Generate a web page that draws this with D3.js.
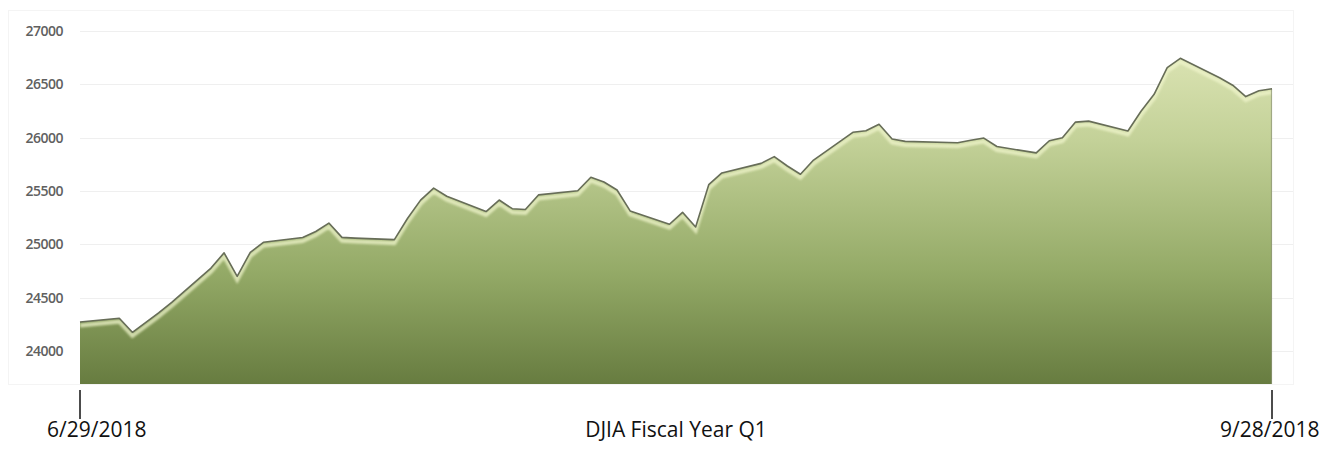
<!DOCTYPE html>
<html>
<head>
<meta charset="utf-8">
<script src="https://cdn.jsdelivr.net/npm/d3@7"></script>
<style>
  html, body { margin: 0; padding: 0; background: #fff; }
  svg { display: block; }
</style>
</head>
<body>
<svg id="chart" width="1335" height="449"></svg>
<script>
const dates = ["2018-06-29","2018-07-02","2018-07-03","2018-07-05","2018-07-06","2018-07-09","2018-07-10","2018-07-11","2018-07-12","2018-07-13",
  "2018-07-16","2018-07-17","2018-07-18","2018-07-19","2018-07-20","2018-07-23","2018-07-24","2018-07-25","2018-07-26","2018-07-27",
  "2018-07-30","2018-07-31","2018-08-01","2018-08-02","2018-08-03","2018-08-06","2018-08-07","2018-08-08","2018-08-09","2018-08-10",
  "2018-08-13","2018-08-14","2018-08-15","2018-08-16","2018-08-17","2018-08-20","2018-08-21","2018-08-22","2018-08-23","2018-08-24",
  "2018-08-27","2018-08-28","2018-08-29","2018-08-30","2018-08-31","2018-09-04","2018-09-05","2018-09-06","2018-09-07","2018-09-10",
  "2018-09-11","2018-09-12","2018-09-13","2018-09-14","2018-09-17","2018-09-18","2018-09-19","2018-09-20","2018-09-21","2018-09-24",
  "2018-09-25","2018-09-26","2018-09-27","2018-09-28"];
const closes = [24271,24307,24175,24357,24456,24777,24920,24700,24925,25019,
  25064,25120,25199,25065,25058,25044,25242,25414,25527,25451,
  25307,25415,25334,25326,25463,25502,25629,25584,25509,25313,
  25188,25300,25162,25559,25669,25759,25822,25734,25657,25790,
  26050,26064,26125,25987,25965,25952,25975,25996,25917,25857,
  25971,25999,26146,26155,26062,26247,26406,26657,26744,26562,
  26492,26385,26440,26458];
const yTicks = [24000, 24500, 25000, 25500, 26000, 26500, 27000];
const xTickLabels = ["6/29/2018", "9/28/2018"];
const title = "DJIA Fiscal Year Q1";

const parse = d3.timeParse("%Y-%m-%d");
const data = dates.map((d, i) => ({ date: parse(d), value: closes[i] }));

const svg = d3.select("#chart");
const x = d3.scaleTime().domain(d3.extent(data, d => d.date)).range([80, 1272]);
const y = d3.scaleLinear().domain([23690, 27197]).range([384, 10]);

const defs = svg.append("defs");
const grad = defs.append("linearGradient").attr("id", "fillGrad")
  .attr("gradientUnits", "userSpaceOnUse").attr("x1", 0).attr("x2", 0).attr("y1", y.range()[1]).attr("y2", y.range()[0]);
grad.append("stop").attr("offset", "0%").attr("stop-color", "#e6ecbf");
grad.append("stop").attr("offset", "35%").attr("stop-color", "#c3d198");
grad.append("stop").attr("offset", "70%").attr("stop-color", "#94aa67");
grad.append("stop").attr("offset", "100%").attr("stop-color", "#677c40");
defs.append("filter").attr("id", "blur").append("feGaussianBlur").attr("stdDeviation", 1.2);
const area = d3.area().x(d => x(d.date)).y0(y.range()[0]).y1(d => y(d.value));
defs.append("clipPath").attr("id", "areaClip").append("path").datum(data).attr("d", area);

// faint frame
svg.append("rect").attr("x", 8.5).attr("y", 10.5).attr("width", 1285).attr("height", 374)
  .attr("fill", "none").attr("stroke", "#f4f4f4");

// grid
svg.append("g").selectAll("line").data(yTicks).join("line")
  .attr("x1", 80).attr("x2", 1293)
  .attr("y1", d => Math.round(y(d)) + 0.5).attr("y2", d => Math.round(y(d)) + 0.5)
  .attr("stroke", "#efefef");

// y axis labels
const yAxis = d3.axisLeft(y).tickValues(yTicks).tickSize(0).tickPadding(0).tickFormat(d3.format("d"));
const ya = svg.append("g").attr("transform", "translate(63,0)").call(yAxis);
ya.select(".domain").remove();
ya.selectAll("text").attr("fill", "#606060").attr("font-family", "'Open Sans', sans-serif")
  .attr("font-size", 14).attr("font-weight", 600).attr("letter-spacing", -0.5);

// area
svg.append("path").datum(data).attr("d", area).attr("fill", "url(#fillGrad)");

// highlight bevel below the line
const line = d3.line().x(d => x(d.date)).y(d => y(d.value));
svg.append("g").attr("clip-path", "url(#areaClip)")
  .append("path").datum(data).attr("d", line)
  .attr("transform", "translate(0,3.5)")
  .attr("fill", "none").attr("stroke", "#f0f5cc").attr("stroke-width", 4)
  .attr("opacity", 0.75).attr("filter", "url(#blur)");

// right edge
svg.append("line").attr("x1", x.range()[1] - 0.5).attr("x2", x.range()[1] - 0.5)
  .attr("y1", y(closes[closes.length - 1])).attr("y2", y.range()[0])
  .attr("stroke", "#8f9678").attr("stroke-width", 1.2).attr("opacity", 0.7);

// line
svg.append("path").datum(data).attr("d", line)
  .attr("fill", "none").attr("stroke", "#676d58").attr("stroke-width", 1.6)
  .attr("stroke-linejoin", "round");

// x axis ticks
const xa = svg.append("g").attr("transform", "translate(0,390)");
const xTickDates = [data[0].date, data[data.length - 1].date];
xa.selectAll("line").data(xTickDates).join("line")
  .attr("x1", d => x(d)).attr("x2", d => x(d)).attr("y1", 0).attr("y2", 29)
  .attr("stroke", "#111").attr("stroke-width", 1.5);
xa.selectAll("text").data(xTickDates).join("text")
  .attr("x", (d, i) => i === 0 ? 47 : x(d) - 52)
  .attr("y", 47)
  .attr("font-family", "'Open Sans', sans-serif").attr("font-size", 21)
  .attr("fill", "#111")
  .text((d, i) => xTickLabels[i]);

svg.append("text").attr("x", 676).attr("y", 437).attr("text-anchor", "middle")
  .attr("font-family", "'Open Sans', sans-serif").attr("font-size", 21)
  .attr("fill", "#111")
  .text(title);
</script>
</body>
</html>
